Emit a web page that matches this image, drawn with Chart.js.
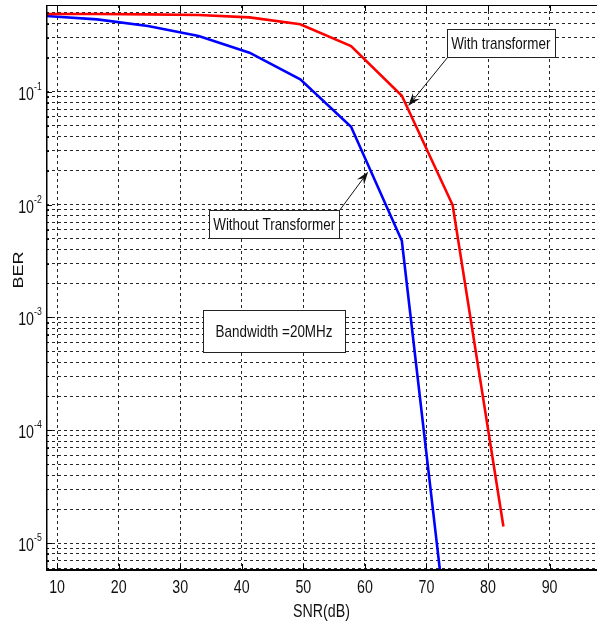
<!DOCTYPE html>
<html>
<head>
<meta charset="utf-8">
<script src="https://cdn.jsdelivr.net/npm/chart.js@4.4.1/dist/chart.umd.min.js"></script>
<style>
  html, body { margin: 0; padding: 0; background: #fff; }
  #wrap { width: 597px; height: 628px; }
</style>
</head>
<body>
<div id="wrap"><canvas id="ber-chart"></canvas></div>
<script>
// SNR (dB) sample points, shared by both curves
const snr = [8.25, 16.5, 24.75, 33, 41.25, 49.5, 57.75, 66, 74.25, 82.5];
// BER values
const berWith = [0.488, 0.488, 0.485, 0.478, 0.456, 0.396, 0.254, 0.0922, 0.0099, 1.4e-5];
const berWithout = [0.469, 0.438, 0.382, 0.312, 0.222, 0.129, 0.049, 0.00478, 6.1e-7];

const xTicks = [10, 20, 30, 40, 50, 60, 70, 80, 90];
const yDecades = [-5, -4, -3, -2, -1];
const xRange = [8.2, 97.7];
const yRange = [5.77e-6, 0.587];

// text boxes, anchored in data units; arrows point at the curves
const notes = [
  { text: 'With transformer', x: 82.07, y: 0.2685, w: 108, h: 28, corner: 'bl', tip: [67.03, 0.0747] },
  { text: 'Without Transformer', x: 45.26, y: 0.0067, w: 130, h: 28, corner: 'tr', tip: [60.53, 0.01954] },
  { text: 'Bandwidth =20MHz', x: 45.24, y: 7.57e-4, w: 142, h: 42 }
];

const SQUEEZE = 0.79;
const FONT = '"Liberation Sans", Arial, sans-serif';

function squeezedText(ctx, text, x, y, size, align) {
  ctx.save();
  ctx.translate(x, y);
  ctx.scale(SQUEEZE, 1);
  ctx.font = size + 'px ' + FONT;
  ctx.textAlign = align || 'center';
  ctx.textBaseline = 'middle';
  ctx.fillStyle = '#111';
  ctx.fillText(text, 0, 0);
  ctx.restore();
}

function drawArrow(ctx, x1, y1, x2, y2) {
  const ang = Math.atan2(y2 - y1, x2 - x1);
  const len = 13, half = 4.5;
  ctx.save();
  ctx.strokeStyle = '#111';
  ctx.fillStyle = '#111';
  ctx.lineWidth = 1;
  ctx.beginPath();
  ctx.moveTo(x1, y1);
  ctx.lineTo(x2 - Math.cos(ang) * len * 0.7, y2 - Math.sin(ang) * len * 0.7);
  ctx.stroke();
  ctx.beginPath();
  ctx.moveTo(x2, y2);
  ctx.lineTo(x2 - Math.cos(ang) * len + Math.sin(ang) * half, y2 - Math.sin(ang) * len - Math.cos(ang) * half);
  ctx.lineTo(x2 - Math.cos(ang) * len * 0.65, y2 - Math.sin(ang) * len * 0.65);
  ctx.lineTo(x2 - Math.cos(ang) * len - Math.sin(ang) * half, y2 - Math.sin(ang) * len + Math.cos(ang) * half);
  ctx.closePath();
  ctx.fill();
  ctx.restore();
}

// frame, inner tick marks, tick labels, axis titles and notes
const decorations = {
  id: 'decorations',
  afterDraw(chart) {
    const { ctx, chartArea: a, scales: { x, y } } = chart;

    ctx.save();
    ctx.strokeStyle = '#000';
    ctx.lineWidth = 1;
    xTicks.forEach(v => {
      const px = Math.round(x.getPixelForValue(v)) + 0.5;
      ctx.beginPath();
      ctx.moveTo(px, a.bottom); ctx.lineTo(px, a.bottom - 6);
      ctx.moveTo(px, a.top); ctx.lineTo(px, a.top + 6);
      ctx.stroke();
    });
    y.ticks.forEach(t => {
      const py = Math.round(y.getPixelForValue(t.value)) + 0.5;
      const major = yDecades.some(e => Math.abs(Math.log10(t.value) - e) < 1e-6);
      ctx.beginPath();
      ctx.moveTo(a.left, py); ctx.lineTo(a.left + (major ? 6 : 3), py);
      ctx.stroke();
    });

    ctx.lineWidth = 1;
    ctx.beginPath();
    ctx.moveTo(a.left, a.top + 0.5); ctx.lineTo(a.right, a.top + 0.5);
    ctx.stroke();
    ctx.lineWidth = 1.5;
    ctx.beginPath();
    ctx.moveTo(a.left + 0.75, a.top); ctx.lineTo(a.left + 0.75, a.bottom);
    ctx.stroke();
    ctx.lineWidth = 2;
    ctx.beginPath();
    ctx.moveTo(a.left, a.bottom); ctx.lineTo(a.right, a.bottom);
    ctx.stroke();
    ctx.restore();

    // tick labels
    xTicks.forEach(v => squeezedText(ctx, String(v), x.getPixelForValue(v), a.bottom + 18, 18));
    yDecades.forEach(e => {
      const py = y.getPixelForValue(Math.pow(10, e));
      squeezedText(ctx, '10', 34, py + 3, 18, 'right');
      squeezedText(ctx, String(e), 34, py - 5, 11, 'left');
    });

    // axis titles
    squeezedText(ctx, 'SNR(dB)', (a.left + a.right) / 2, a.bottom + 42, 18);
    ctx.save();
    ctx.translate(19, 270);
    ctx.rotate(-Math.PI / 2);
    ctx.scale(1, SQUEEZE);
    ctx.font = '18px ' + FONT;
    ctx.textAlign = 'center';
    ctx.textBaseline = 'middle';
    ctx.fillStyle = '#111';
    ctx.fillText('BER', 0, 0);
    ctx.restore();

    // notes
    notes.forEach(n => {
      const cx = x.getPixelForValue(n.x);
      const cy = y.getPixelForValue(n.y);
      const l = Math.round(cx - n.w / 2) + 0.5, t = Math.round(cy - n.h / 2) + 0.5;
      if (n.tip) {
        const sx = n.corner.includes('r') ? l + n.w : l;
        const sy = n.corner.includes('b') ? t + n.h : t;
        drawArrow(ctx, sx, sy, x.getPixelForValue(n.tip[0]), y.getPixelForValue(n.tip[1]));
      }
      ctx.save();
      ctx.fillStyle = '#fff';
      ctx.strokeStyle = '#222';
      ctx.lineWidth = 1;
      ctx.fillRect(l, t, n.w, n.h);
      ctx.strokeRect(l, t, n.w, n.h);
      ctx.restore();
      squeezedText(ctx, n.text, cx, cy + 1, 17);
    });
  }
};

const toPoints = vals => vals.map((v, i) => ({ x: snr[i], y: v }));

new Chart(document.getElementById('ber-chart'), {
  type: 'line',
  data: {
    datasets: [
      {
        label: 'With transformer',
        data: toPoints(berWith),
        borderColor: '#ff0000',
        borderWidth: 2.6,
        pointRadius: 0,
        tension: 0
      },
      {
        label: 'Without Transformer',
        data: toPoints(berWithout),
        borderColor: '#0000ff',
        borderWidth: 2.6,
        pointRadius: 0,
        tension: 0
      }
    ]
  },
  options: {
    responsive: true,
    maintainAspectRatio: false,
    animation: false,
    layout: { padding: { left: 46, top: 5, right: 0, bottom: 58 } },
    plugins: {
      legend: { display: false },
      tooltip: { enabled: false }
    },
    scales: {
      x: {
        type: 'linear',
        min: xRange[0],
        max: xRange[1],
        afterBuildTicks(scale) {
          scale.ticks = xTicks.map(v => ({ value: v }));
        },
        afterFit(scale) { scale.height = 0; },
        ticks: { display: false },
        grid: { color: 'rgba(0,0,0,0.85)', lineWidth: 1, drawTicks: false },
        border: { display: false, dash: [3, 3] }
      },
      y: {
        type: 'logarithmic',
        min: yRange[0],
        max: yRange[1],
        afterBuildTicks(scale) {
          const ticks = [];
          [-6].concat(yDecades).forEach(e => {
            for (let m = 1; m <= 9; m++) {
              const v = m * Math.pow(10, e);
              if (v >= yRange[0] && v <= yRange[1]) ticks.push({ value: v });
            }
          });
          scale.ticks = ticks;
        },
        afterFit(scale) { scale.width = 0; },
        ticks: { display: false },
        grid: { color: 'rgba(0,0,0,0.85)', lineWidth: 1, drawTicks: false },
        border: { display: false, dash: [3, 3] }
      }
    }
  },
  plugins: [decorations]
});
</script>
</body>
</html>
